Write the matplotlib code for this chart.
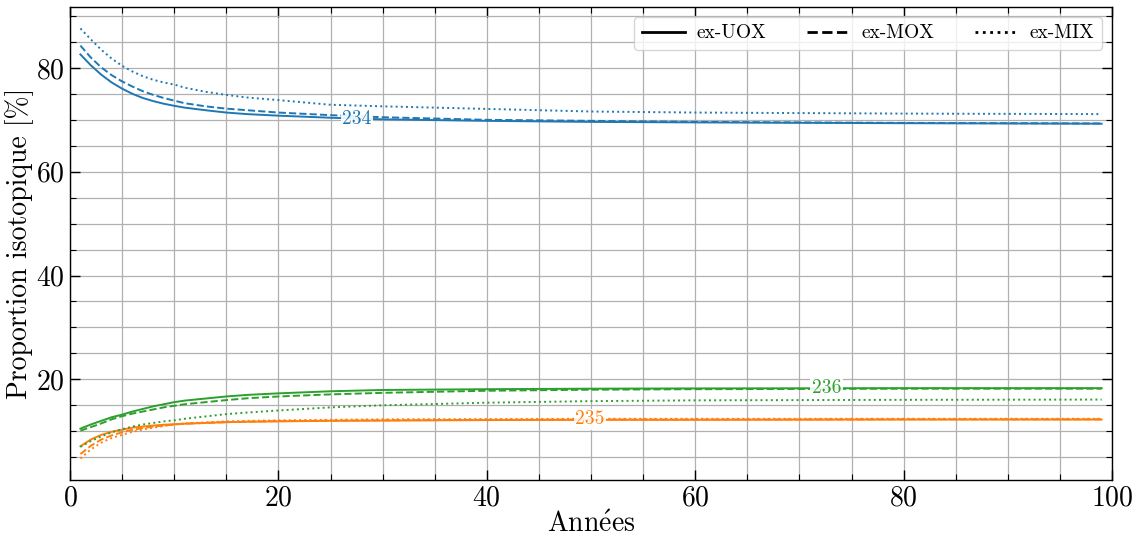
import matplotlib
matplotlib.use("Agg")
import matplotlib.pyplot as plt
from matplotlib.lines import Line2D
from matplotlib.ticker import MultipleLocator

plt.rcParams['font.family'] = ['cmr10', 'DejaVu Serif']
plt.rcParams['mathtext.fontset'] = 'cm'
plt.rcParams['axes.formatter.use_mathtext'] = True

years = [1, 2, 3, 4, 5, 6, 7, 8, 9, 10, 11, 13, 15, 17, 20, 25, 30, 40, 50, 60, 80, 99]

u234_uox = [82.6, 80.5, 78.7, 77.2, 76.0, 75.0, 74.2, 73.6, 73.1, 72.7, 72.35, 71.85, 71.4, 71.1, 70.8, 70.4, 70.1, 69.8, 69.6, 69.5, 69.35, 69.25]
u234_mox = [84.3, 82.0, 80.1, 78.6, 77.4, 76.4, 75.5, 74.8, 74.2, 73.7, 73.2, 72.6, 72.15, 71.85, 71.4, 70.9, 70.5, 70.0, 69.8, 69.6, 69.4, 69.3]
u234_mix = [87.6, 85.5, 83.5, 81.8, 80.4, 79.3, 78.4, 77.7, 77.2, 76.8, 76.2, 75.4, 74.8, 74.3, 73.8, 72.9, 72.6, 72.1, 71.6, 71.4, 71.2, 71.1]

u236_uox = [10.5, 11.3, 12.0, 12.7, 13.2, 13.8, 14.3, 14.8, 15.2, 15.6, 15.9, 16.3, 16.7, 17.0, 17.3, 17.7, 17.95, 18.1, 18.2, 18.25, 18.3, 18.3]
u236_mox = [10.1, 10.8, 11.5, 12.3, 12.9, 13.4, 13.8, 14.2, 14.6, 14.9, 15.2, 15.6, 16.0, 16.35, 16.7, 17.1, 17.4, 17.8, 18.0, 18.1, 18.2, 18.2]
u236_mix = [7.0, 8.1, 9.0, 9.8, 10.4, 10.9, 11.3, 11.6, 11.9, 12.1, 12.4, 12.85, 13.3, 13.6, 14.0, 14.6, 15.0, 15.5, 15.8, 15.95, 16.05, 16.1]

u235_uox = [7.1, 8.4, 9.3, 9.9, 10.3, 10.7, 10.9, 11.1, 11.25, 11.35, 11.45, 11.6, 11.75, 11.82, 11.9, 12.0, 12.05, 12.15, 12.2, 12.2, 12.25, 12.25]
u235_mox = [5.6, 7.2, 8.4, 9.2, 9.8, 10.3, 10.6, 10.9, 11.1, 11.3, 11.45, 11.6, 11.75, 11.85, 11.95, 12.05, 12.1, 12.2, 12.25, 12.25, 12.3, 12.3]
u235_mix = [4.75, 6.5, 7.8, 8.7, 9.3, 9.9, 10.35, 10.7, 11.0, 11.3, 11.5, 11.7, 11.9, 12.0, 12.1, 12.2, 12.3, 12.35, 12.4, 12.4, 12.4, 12.4]

isotopes = ['234', '235', '236']
colors = {'234': '#1f77b4', '235': '#ff7f0e', '236': '#2ca02c'}
series = {
    '234': [u234_uox, u234_mox, u234_mix],
    '235': [u235_uox, u235_mox, u235_mix],
    '236': [u236_uox, u236_mox, u236_mix],
}
fuel_labels = ['ex-UOX', 'ex-MOX', 'ex-MIX']
styles = ['-', '--', ':']
label_pos = {'234': (27.5, 70.2), '235': (49.9, 12.3), '236': (72.6, 18.4)}

fig = plt.figure(figsize=(11.38, 5.36), dpi=100)
ax = fig.add_axes([0.0615, 0.1045, 0.9157, 0.8825])

for iso in isotopes:
    for vals, ls in zip(series[iso], styles):
        ax.plot(years, vals, color=colors[iso], ls=ls, lw=1.4)
    lx, ly = label_pos[iso]
    ax.text(lx, ly, iso, color=colors[iso], fontsize=14, ha='center', va='center',
            bbox=dict(facecolor='white', edgecolor='none', pad=1.0, alpha=0.9), zorder=5)

ax.set_xlim(0, 100)
ax.margins(y=0.05)
ax.xaxis.set_major_locator(MultipleLocator(20))
ax.xaxis.set_minor_locator(MultipleLocator(5))
ax.yaxis.set_major_locator(MultipleLocator(20))
ax.yaxis.set_minor_locator(MultipleLocator(5))
ax.grid(True, which='both', color='#b0b0b0', lw=0.9)
ax.set_axisbelow(True)
ax.tick_params(which='both', direction='in', top=True, right=True, labelsize=20)
ax.tick_params(which='major', length=7, width=1)
ax.tick_params(which='minor', length=4, width=0.8)
for s in ax.spines.values():
    s.set_linewidth(1.0)

ax.set_xlabel(r'Ann$\acute{\mathrm{e}}$es', fontsize=20, labelpad=0)
ax.set_ylabel('Proportion isotopique [%]', fontsize=20, labelpad=2)

handles = [Line2D([], [], color='black', ls=ls, lw=2) for ls in styles]
ax.legend(handles, fuel_labels, loc='upper right', ncol=3, fontsize=14,
          handlelength=2.2, handletextpad=0.6, columnspacing=2.1,
          fancybox=True, framealpha=0.8, borderaxespad=0.5)

fig.savefig('out.png', dpi=100)
